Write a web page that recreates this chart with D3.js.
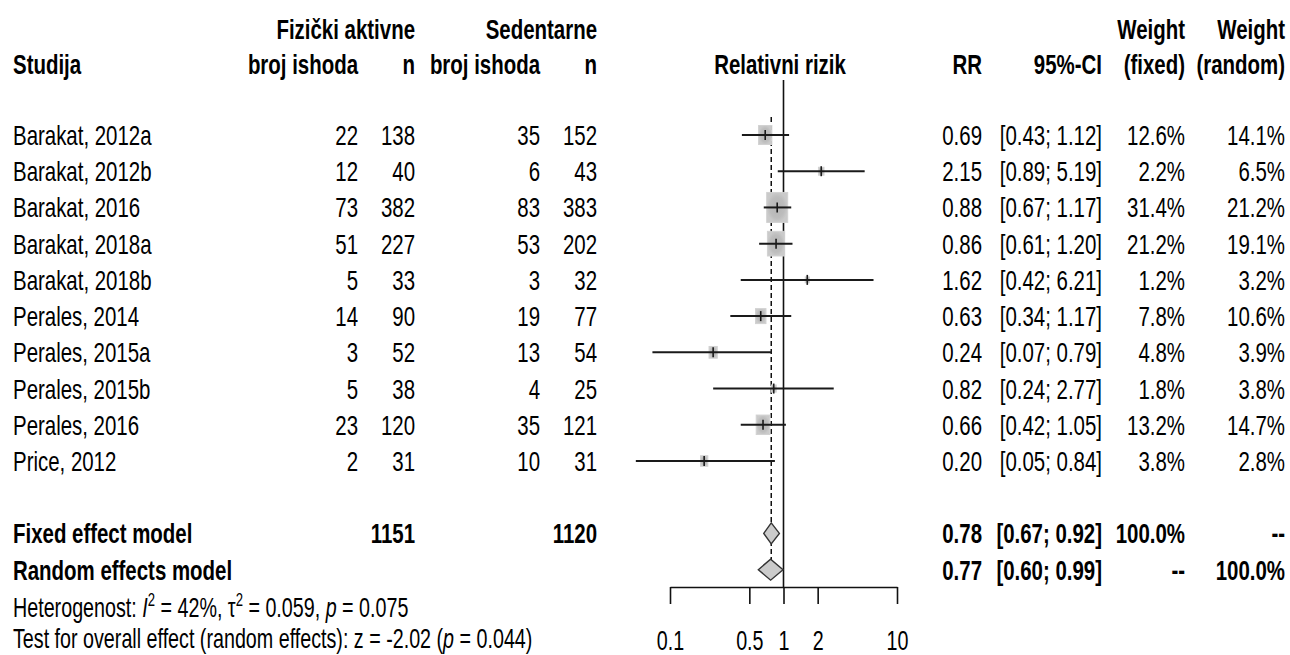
<!DOCTYPE html>
<html>
<head>
<meta charset="utf-8">
<script src="https://cdn.jsdelivr.net/npm/d3@7"></script>
<style>
  body { margin: 0; background: #fff; }
  svg { display: block; }
</style>
</head>
<body>
<div id="chart"></div>
<script>
const studies = ["Barakat, 2012a", "Barakat, 2012b", "Barakat, 2016", "Barakat, 2018a", "Barakat, 2018b",
  "Perales, 2014", "Perales, 2015a", "Perales, 2015b", "Perales, 2016", "Price, 2012"]
const eventsActive = [22, 12, 73, 51, 5, 14, 3, 5, 23, 2]
const nActive = [138, 40, 382, 227, 33, 90, 52, 38, 120, 31]
const eventsSedentary = [35, 6, 83, 53, 3, 19, 13, 4, 35, 10]
const nSedentary = [152, 43, 383, 202, 32, 77, 54, 25, 121, 31]
const rr = [0.69, 2.15, 0.88, 0.86, 1.62, 0.63, 0.24, 0.82, 0.66, 0.20]
const ciLow = [0.43, 0.89, 0.67, 0.61, 0.42, 0.34, 0.07, 0.24, 0.42, 0.05]
const ciHigh = [1.12, 5.19, 1.17, 1.20, 6.21, 1.17, 0.79, 2.77, 1.05, 0.84]
const weightFixed = [12.6, 2.2, 31.4, 21.2, 1.2, 7.8, 4.8, 1.8, 13.2, 3.8]
const weightRandom = [14.1, 6.5, 21.2, 19.1, 3.2, 10.6, 3.9, 3.8, 14.7, 2.8]

const models = ["Fixed effect model", "Random effects model"]
const modelRR = [0.78, 0.77]
const modelLow = [0.67, 0.60]
const modelHigh = [0.92, 0.99]
const modelWeightFixed = ["100.0%", "--"]
const modelWeightRandom = ["--", "100.0%"]
const totalActive = 1151
const totalSedentary = 1120

const axisTicks = [0.1, 0.5, 1, 2, 10]

const width = 1290
const height = 655

const svg = d3
  .select("#chart")
  .append("svg")
  .attr("width", width)
  .attr("height", height)

// narrow font if present, otherwise squeeze the normal one harder
const probe = svg.append("text").attr("font-size", 40).text("Barakat, 2012a")
probe.attr("font-family", "monospace")
const wMono = probe.node().getComputedTextLength()
probe.attr("font-family", "'Liberation Sans Narrow', monospace")
const wNarrow = probe.node().getComputedTextLength()
probe.remove()
const hasNarrow = Math.abs(wMono - wNarrow) > 1
const family = hasNarrow ? "'Liberation Sans Narrow'" : "'Liberation Sans', Arial, sans-serif"
const squeeze = hasNarrow ? 0.89 : 0.73

const xScale = d3.scaleLog().domain([0.1, 10]).range([670, 897])
const yRow = d3.scaleLinear().domain([0, 9]).range([135, 461])
const boxH = d3.scaleSqrt().domain([0, 31.4]).range([0, 30])
const f2 = d3.format(".2f")
const f1 = d3.format(".1f")

const col = { study: 13, evA: 358, nA: 415, evS: 540, nS: 597, rr: 982, ci: 1102, wf: 1185, wr: 1285 }
const fs = 28
const base = 10

const label = (x, y, str, opts = {}) =>
  svg
    .append("text")
    .attr("transform", `translate(${x},${y}) scale(${squeeze},1)`)
    .attr("text-anchor", opts.anchor || "start")
    .attr("font-weight", opts.bold ? "bold" : "normal")
    .attr("font-size", opts.size || fs)
    .attr("font-family", family)
    .attr("fill", "#000")
    .text(str)

// headers
const h1 = 39
const h2 = 74
label(col.nA, h1, "Fizički aktivne", { anchor: "end", bold: true })
label(col.nS, h1, "Sedentarne", { anchor: "end", bold: true })
label(col.wf, h1, "Weight", { anchor: "end", bold: true })
label(col.wr, h1, "Weight", { anchor: "end", bold: true })
label(col.study, h2, "Studija", { bold: true })
label(col.evA, h2, "broj ishoda", { anchor: "end", bold: true })
label(col.nA, h2, "n", { anchor: "end", bold: true })
label(col.evS, h2, "broj ishoda", { anchor: "end", bold: true })
label(col.nS, h2, "n", { anchor: "end", bold: true })
label(780, h2, "Relativni rizik", { anchor: "middle", bold: true })
label(col.rr, h2, "RR", { anchor: "end", bold: true })
label(col.ci, h2, "95%-CI", { anchor: "end", bold: true })
label(col.wf, h2, "(fixed)", { anchor: "end", bold: true })
label(col.wr, h2, "(random)", { anchor: "end", bold: true })

// study rows text
const idx = studies.map((s, i) => i)
const columns = [
  { x: col.study, anchor: "start", val: i => studies[i] },
  { x: col.evA, anchor: "end", val: i => eventsActive[i] },
  { x: col.nA, anchor: "end", val: i => nActive[i] },
  { x: col.evS, anchor: "end", val: i => eventsSedentary[i] },
  { x: col.nS, anchor: "end", val: i => nSedentary[i] },
  { x: col.rr, anchor: "end", val: i => f2(rr[i]) },
  { x: col.ci, anchor: "end", val: i => `[${f2(ciLow[i])}; ${f2(ciHigh[i])}]` },
  { x: col.wf, anchor: "end", val: i => `${f1(weightFixed[i])}%` },
  { x: col.wr, anchor: "end", val: i => `${f1(weightRandom[i])}%` },
]
columns.forEach(c => {
  svg
    .append("g")
    .selectAll("text")
    .data(idx)
    .join("text")
    .attr("transform", i => `translate(${c.x},${yRow(i) + base}) scale(${squeeze},1)`)
    .attr("text-anchor", c.anchor)
    .attr("font-size", fs)
    .attr("font-family", family)
    .text(c.val)
})

// pooled rows text
const pooled = models.map((m, i) => i)
const modelCols = [
  { x: col.study, anchor: "start", val: i => models[i] },
  { x: col.nA, anchor: "end", val: i => (i === 0 ? totalActive : "") },
  { x: col.nS, anchor: "end", val: i => (i === 0 ? totalSedentary : "") },
  { x: col.rr, anchor: "end", val: i => f2(modelRR[i]) },
  { x: col.ci, anchor: "end", val: i => `[${f2(modelLow[i])}; ${f2(modelHigh[i])}]` },
  { x: col.wf, anchor: "end", val: i => modelWeightFixed[i] },
  { x: col.wr, anchor: "end", val: i => modelWeightRandom[i] },
]
modelCols.forEach(c => {
  svg
    .append("g")
    .selectAll("text")
    .data(pooled)
    .join("text")
    .attr("transform", i => `translate(${c.x},${yRow(11 + i) + base}) scale(${squeeze},1)`)
    .attr("text-anchor", c.anchor)
    .attr("font-size", fs)
    .attr("font-weight", "bold")
    .attr("font-family", family)
    .text(c.val)
})

// heterogeneity lines
const het = label(col.study, yRow(13) + 11, "", { size: 27 })
het.append("tspan").text("Heterogenost: ")
het.append("tspan").attr("font-style", "italic").text("I")
het.append("tspan").attr("font-size", 18).attr("dy", -11).text("2")
het.append("tspan").attr("dy", 11).text(" = 42%, τ")
het.append("tspan").attr("font-size", 18).attr("dy", -11).text("2")
het.append("tspan").attr("dy", 11).text(" = 0.059, ")
het.append("tspan").attr("font-style", "italic").text("p")
het.append("tspan").text(" = 0.075")

const test = label(col.study, yRow(14) + 6, "", { size: 27 })
test.append("tspan").text("Test for overall effect (random effects): z = -2.02 (")
test.append("tspan").attr("font-style", "italic").text("p")
test.append("tspan").text(" = 0.044)")

// reference lines
svg
  .append("line")
  .attr("x1", xScale(1))
  .attr("x2", xScale(1))
  .attr("y1", 80)
  .attr("y2", 587)
  .attr("stroke", "#111")
  .attr("stroke-width", 1.6)

svg
  .append("line")
  .attr("x1", xScale(modelRR[0]))
  .attr("x2", xScale(modelRR[0]))
  .attr("y1", 117)
  .attr("y2", 560)
  .attr("stroke", "#111")
  .attr("stroke-width", 1.5)
  .attr("stroke-dasharray", "5,3")

// boxes
const defs = svg.append("defs")
const grad = defs.append("radialGradient").attr("id", "box")
grad.append("stop").attr("offset", "0%").attr("stop-color", "#b4b4b4")
grad.append("stop").attr("offset", "70%").attr("stop-color", "#bdbdbd")
grad.append("stop").attr("offset", "100%").attr("stop-color", "#cacaca")

svg
  .append("g")
  .selectAll("rect")
  .data(idx)
  .join("rect")
  .attr("x", i => xScale(rr[i]) - (boxH(weightFixed[i]) * 0.7) / 2)
  .attr("y", i => yRow(i) - boxH(weightFixed[i]) / 2)
  .attr("width", i => boxH(weightFixed[i]) * 0.7)
  .attr("height", i => boxH(weightFixed[i]))
  .attr("fill", "url(#box)")
  .attr("stroke", "#d2d2d2")
  .attr("stroke-width", 1)

// confidence intervals
svg
  .append("g")
  .selectAll("line")
  .data(idx)
  .join("line")
  .attr("x1", i => xScale(ciLow[i]))
  .attr("x2", i => xScale(ciHigh[i]))
  .attr("y1", i => yRow(i))
  .attr("y2", i => yRow(i))
  .attr("stroke", "#1a1a1a")
  .attr("stroke-width", 2)

svg
  .append("g")
  .selectAll("line")
  .data(idx)
  .join("line")
  .attr("x1", i => xScale(rr[i]))
  .attr("x2", i => xScale(rr[i]))
  .attr("y1", i => yRow(i) - 5)
  .attr("y2", i => yRow(i) + 5)
  .attr("stroke", "#1a1a1a")
  .attr("stroke-width", 1.6)

// diamonds
svg
  .append("g")
  .selectAll("path")
  .data(pooled)
  .join("path")
  .attr("d", i => {
    const y = yRow(11 + i)
    return `M${xScale(modelLow[i])},${y}L${xScale(modelRR[i])},${y - 10.5}L${xScale(modelHigh[i])},${y}L${xScale(modelRR[i])},${y + 10.5}Z`
  })
  .attr("fill", "#cbcbcb")
  .attr("stroke", "#333")
  .attr("stroke-width", 1.4)

// axis
const axis = svg
  .append("g")
  .attr("transform", "translate(0,587)")
  .call(
    d3
      .axisBottom(xScale)
      .tickValues(axisTicks)
      .tickFormat(d => String(d))
      .tickSize(17)
      .tickSizeOuter(0)
      .tickPadding(27)
  )
axis.select(".domain").attr("stroke", "#111").attr("stroke-width", 1.6)
axis.selectAll(".tick line").attr("stroke", "#111").attr("stroke-width", 1.6)
axis
  .selectAll(".tick text")
  .attr("font-size", 27)
  .attr("font-family", family)
  .attr("fill", "#000")
  .attr("transform", `scale(${squeeze},1)`)
</script>
</body>
</html>
